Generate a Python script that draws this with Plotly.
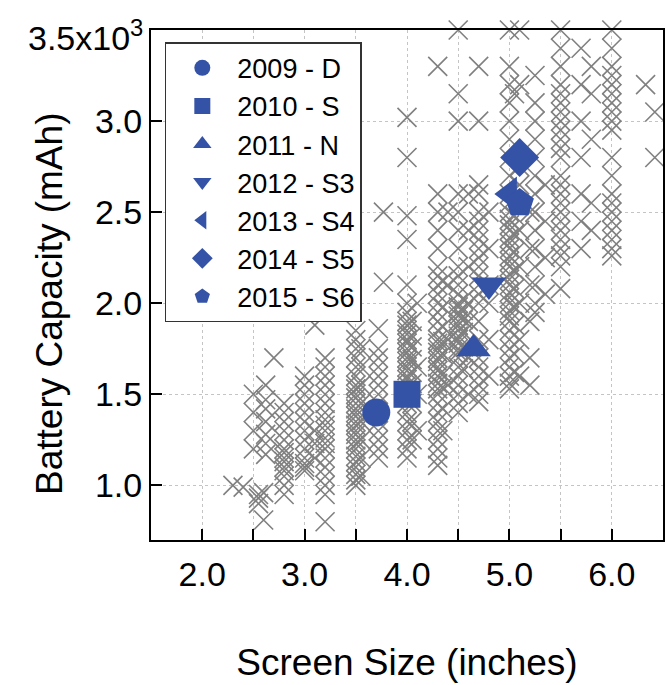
import plotly.graph_objects as go

# ---- Gray cloud: all phone models (screen size in inches, capacity in mAh), read per column ----
col_sizes = [2.3, 2.4, 2.55, 2.6, 2.5, 2.62, 2.7, 2.8, 3.0, 3.1, 3.2, 3.5, 3.55, 3.72, 3.77,
             4.0, 4.05, 4.1, 4.3, 4.35, 4.4, 4.5, 4.55, 4.6, 4.7, 4.8, 5.0, 5.05, 5.1, 5.2,
             5.25, 5.35, 5.5, 5.7, 5.8, 6.0, 6.33, 6.42]
col_caps = [
    [1000],
    [990],
    [900, 930, 950],
    [810, 960],
    [1200, 1300, 1400, 1500],
    [1170, 1230, 1280, 1350, 1420, 1470, 1550],
    [1700],
    [950, 1000, 1050, 1080, 1100, 1130, 1150, 1180, 1200, 1250, 1300, 1350, 1400, 1450],
    [1080, 1100, 1120, 1150, 1200, 1250, 1300, 1350, 1400, 1450, 1500, 1550, 1600],
    [1150, 1230, 1300, 1880],
    [800, 950, 1000, 1050, 1100, 1150, 1200, 1230, 1260, 1300, 1330, 1360, 1400, 1450,
     1500, 1550, 1600, 1650, 1700],
    [1000, 1030, 1060, 1100, 1130, 1160, 1200, 1230, 1250, 1280, 1300, 1330, 1350, 1380,
     1400, 1420, 1450, 1480, 1500, 1530, 1550, 1600, 1650, 1700, 1750, 1800, 1850],
    [1050, 1150, 1250, 1350, 1450, 1550, 1650, 1750],
    [1150, 1200, 1250, 1300, 1350, 1400, 1450, 1500, 1550, 1600, 1650, 1700, 1750, 1860],
    [2115, 2500],
    [1150, 1200, 1250, 1300, 1350, 1400, 1450, 1500, 1520, 1550, 1580, 1600, 1630, 1650,
     1680, 1700, 1730, 1750, 1780, 1800, 1830, 1850, 1880, 1900, 1950, 2000, 2100, 2350,
     2480, 2800, 3020],
    [1250, 1350, 1450, 1560, 1620, 1690, 1760, 1820, 1900],
    [1300, 1500, 1650, 2000],
    [1110, 1150, 1200, 1250, 1300, 1350, 1400, 1450, 1500, 1530, 1560, 1600, 1630, 1650,
     1680, 1700, 1730, 1750, 1780, 1800, 1850, 1900, 1950, 2000, 2050, 2100, 2150, 2200,
     2300, 2400, 2500, 2600, 3300],
    [1300, 1420, 1540, 1610, 1720, 1790, 1870, 1980, 2120],
    [1550, 1800, 2100, 2500],
    [1400, 1450, 1500, 1550, 1600, 1650, 1700, 1730, 1750, 1780, 1800, 1820, 1850, 1880,
     1900, 1930, 1950, 1980, 2000, 2050, 2100, 2150, 2200, 2300, 2400, 2500, 2600, 3000,
     3150, 3500],
    [1640, 1760, 1840, 1910, 1960, 2020],
    [1500, 1700, 1900, 2000, 2200, 2400, 2600],
    [1460, 1500, 1550, 1600, 1650, 1700, 1800, 1900, 2000, 2050, 2100, 2150, 2200, 2250,
     2300, 2350, 2400, 2450, 2500, 2600, 2650, 3000, 3300],
    [1600, 1800, 2000, 2100, 2300, 2500],
    [1530, 1560, 1600, 1650, 1700, 1750, 1800, 1850, 1900, 1930, 1960, 2000, 2030, 2060,
     2100, 2130, 2160, 2200, 2230, 2260, 2300, 2330, 2360, 2400, 2430, 2460, 2500, 2550,
     2600, 2700, 2800, 2900, 3000, 3100, 3200, 3300, 3500],
    [1620, 1720, 1880, 1980, 2080, 2180, 2280, 2380, 2480, 3150],
    [1600, 1800, 2000, 2200, 2400, 2650, 2750, 3200, 3500],
    [1550, 1700, 1900, 2100, 2300, 2500],
    [1950, 2000, 2100, 2200, 2300, 2400, 2500, 2600, 2700, 2800, 2900, 3000, 3100, 3250],
    [2050, 2250, 2450, 2650],
    [2080, 2200, 2260, 2300, 2350, 2400, 2450, 2500, 2550, 2600, 2650, 2700, 2800, 2850,
     2900, 2950, 3000, 3050, 3100, 3150, 3200, 3300, 3400, 3500],
    [2300, 2450, 2600, 2800, 3000, 3200, 3400],
    [2400, 2550, 2900, 3150, 3300],
    [2260, 2300, 2350, 2400, 2450, 2500, 2550, 2600, 2700, 2800, 2950, 3000, 3050, 3100,
     3150, 3200, 3250, 3300, 3400, 3500],
    [3200],
    [2800, 3050],
]

# ---- Highlighted Samsung models ----
model_names = ["2009 - D", "2010 - S", "2011 - N", "2012 - S3", "2013 - S4", "2014 - S5", "2015 - S6"]
model_sizes = [3.7, 4.0, 4.65, 4.8, 5.0, 5.1, 5.1]
model_caps = [1400, 1500, 1750, 2100, 2600, 2800, 2550]
model_symbols = ["circle", "square", "triangle-up", "triangle-down", "triangle-left", "diamond", "pentagon"]
model_msize = [28, 27, 30, 30, 30, 30, 30]

x_ticks = [2.0, 3.0, 4.0, 5.0, 6.0]
x_ticktext = ["2.0", "3.0", "4.0", "5.0", "6.0"]
x_minor = [2.5, 3.5, 4.5, 5.5]
y_ticks = [1000, 1500, 2000, 2500, 3000]
y_ticktext = ["1.0", "1.5", "2.0", "2.5", "3.0"]
y_top_label = "3.5x10<sup>3</sup>"
x_title = "Screen Size (inches)"
y_title = "Battery Capacity (mAh)"

gray_x, gray_y = [], []
for s, caps in zip(col_sizes, col_caps):
    for c in caps:
        gray_x.append(s)
        gray_y.append(c)

FONT = "Liberation Sans, Arial, sans-serif"
BLUE = "#3452A6"
PAD = "\u00a0\u00a0"

fig = go.Figure()
fig.add_trace(go.Scatter(
    x=gray_x, y=gray_y, mode="markers", showlegend=False, cliponaxis=False,
    marker=dict(symbol="x-thin-open", size=19, color="#808080",
                line=dict(width=1.6, color="#808080")),
))
for name, xs, ys, sym, ms in zip(model_names, model_sizes, model_caps, model_symbols, model_msize):
    fig.add_trace(go.Scatter(
        x=[xs], y=[ys], mode="markers", name=PAD + name, cliponaxis=False,
        marker=dict(symbol=sym, size=ms, color=BLUE, line=dict(width=0)),
    ))

axis_common = dict(
    showline=True, linecolor="black", linewidth=2, mirror=True,
    ticks="inside", ticklen=11, tickwidth=2, tickcolor="black",
    showgrid=True, gridcolor="#c4c4c4", gridwidth=1, griddash="dot",
    zeroline=False, automargin=False,
    tickfont=dict(family=FONT, size=34, color="black"),
)

W, H = 666, 685
ML, MR, MT, MB = 151, 3, 30, 145
PW, PH = W - ML - MR, H - MT - MB

fig.update_layout(
    width=W, height=H, autosize=False,
    margin=dict(l=ML, r=MR, t=MT, b=MB),
    paper_bgcolor="white", plot_bgcolor="white",
    font=dict(family=FONT, color="black"),
    xaxis=dict(range=[1.5, 6.5], tickmode="array", tickvals=x_ticks, ticktext=x_ticktext,
               ticklabelstandoff=3,
               minor=dict(tickmode="array", tickvals=x_minor, ticks="inside", ticklen=11,
                          tickwidth=2, tickcolor="black", showgrid=True,
                          gridcolor="#c4c4c4", gridwidth=1, griddash="dot"),
               title=dict(text=x_title, font=dict(family=FONT, size=37), standoff=57),
               **axis_common),
    yaxis=dict(range=[700, 3500], tickmode="array", tickvals=y_ticks, ticktext=y_ticktext,
               **axis_common),
    legend=dict(x=0.027, y=0.976, xanchor="left", yanchor="top",
                bgcolor="white", bordercolor="#333333", borderwidth=1.5,
                font=dict(family=FONT, size=27, color="black"),
                indentation=16),
    annotations=[
        dict(text=y_top_label, xref="paper", yref="paper",
             x=(145 - ML) / PW, y=(H - MB - 36) / PH, xanchor="right", yanchor="middle",
             showarrow=False, font=dict(family=FONT, size=34, color="black")),
        dict(text=y_title, xref="paper", yref="paper", textangle=-90,
             x=(49 - ML) / PW, y=(H - MB - 304) / PH, xanchor="center", yanchor="middle",
             showarrow=False, font=dict(family=FONT, size=37, color="black")),
    ],
)

fig.write_html("out.html")
